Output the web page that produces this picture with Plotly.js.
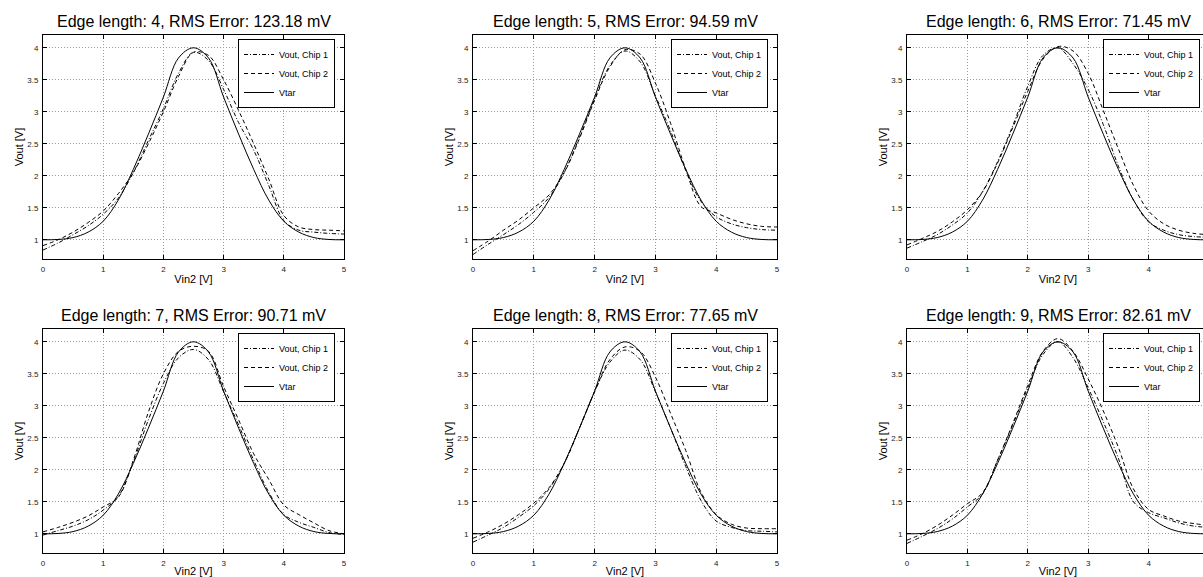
<!DOCTYPE html>
<html>
<head>
<meta charset="utf-8">
<script src="https://cdn.plot.ly/plotly-3.0.1.min.js"></script>
<style>
  html, body { margin: 0; padding: 0; background: #fff; overflow: hidden; }
  #chart { width: 1240px; height: 577px; }
</style>
</head>
<body>
<div id="chart"></div>
<script>
// ---------------- data ----------------
const vin2 = [0, 0.25, 0.5, 0.75, 1, 1.25, 1.5, 1.75, 2, 2.25, 2.5, 2.75, 3, 3.25, 3.5, 3.75, 4, 4.25, 4.5, 4.75, 5];
const vin2TicksFull = [0, 1, 2, 3, 4, 5];
const vin2TicksCropped = [0, 1, 2, 3, 4];

const vtar = [1.00, 1.005, 1.035, 1.12, 1.29, 1.62, 2.10, 2.65, 3.23, 3.84, 4.00, 3.84, 3.23, 2.65, 2.10, 1.62, 1.29, 1.12, 1.035, 1.005, 1.00];

const edgeLengths = [4, 5, 6, 7, 8, 9];
const rmsErrors = [123.18, 94.59, 71.45, 90.71, 77.65, 82.61];
const seriesNames = ['Vout, Chip 1', 'Vout, Chip 2', 'Vtar'];

const chip1_e4 = [0.84, 0.95, 1.08, 1.22, 1.40, 1.65, 2.05, 2.55, 3.05, 3.60, 3.93, 3.80, 3.35, 2.83, 2.40, 1.85, 1.30, 1.15, 1.12, 1.10, 1.09];
const chip2_e4 = [0.91, 1.00, 1.12, 1.27, 1.45, 1.72, 2.05, 2.50, 3.00, 3.55, 3.93, 3.88, 3.50, 3.02, 2.50, 1.95, 1.38, 1.20, 1.16, 1.15, 1.14];

const chip1_e5 = [0.77, 0.93, 1.08, 1.24, 1.43, 1.66, 2.05, 2.60, 3.20, 3.72, 3.95, 3.78, 3.25, 2.70, 2.08, 1.60, 1.36, 1.25, 1.19, 1.16, 1.15];
const chip2_e5 = [0.83, 0.98, 1.15, 1.31, 1.50, 1.70, 2.05, 2.58, 3.18, 3.70, 3.97, 3.90, 3.45, 2.82, 2.10, 1.52, 1.42, 1.32, 1.25, 1.21, 1.20];

const chip1_e6 = [0.87, 0.97, 1.08, 1.23, 1.42, 1.75, 2.22, 2.78, 3.40, 3.88, 4.00, 3.75, 3.35, 2.80, 2.15, 1.62, 1.28, 1.15, 1.08, 1.05, 1.04];
const chip2_e6 = [0.92, 1.02, 1.13, 1.28, 1.47, 1.75, 2.20, 2.75, 3.32, 3.82, 4.02, 3.95, 3.60, 3.02, 2.42, 1.85, 1.45, 1.25, 1.15, 1.10, 1.08];

const chip1_e7 = [0.98, 1.05, 1.12, 1.22, 1.37, 1.58, 2.12, 2.78, 3.35, 3.75, 3.88, 3.72, 3.22, 2.70, 2.15, 1.65, 1.30, 1.18, 1.10, 1.02, 0.99];
const chip2_e7 = [1.03, 1.10, 1.18, 1.28, 1.42, 1.57, 2.15, 2.90, 3.50, 3.85, 3.93, 3.85, 3.30, 2.78, 2.25, 1.85, 1.45, 1.30, 1.17, 1.05, 1.00];

const chip1_e8 = [0.87, 0.98, 1.10, 1.26, 1.44, 1.70, 2.10, 2.65, 3.22, 3.68, 3.87, 3.72, 3.22, 2.65, 2.05, 1.52, 1.20, 1.10, 1.05, 1.04, 1.03];
const chip2_e8 = [0.93, 1.03, 1.15, 1.30, 1.48, 1.72, 2.10, 2.65, 3.22, 3.72, 3.92, 3.85, 3.45, 2.88, 2.30, 1.65, 1.30, 1.15, 1.09, 1.08, 1.08];

const chip1_e9 = [0.85, 0.96, 1.08, 1.23, 1.42, 1.62, 2.15, 2.70, 3.28, 3.80, 4.00, 3.75, 3.28, 2.75, 2.18, 1.50, 1.33, 1.25, 1.17, 1.12, 1.10];
const chip2_e9 = [0.90, 1.00, 1.13, 1.29, 1.47, 1.64, 2.15, 2.72, 3.32, 3.85, 4.05, 3.85, 3.42, 2.92, 2.35, 1.70, 1.38, 1.28, 1.20, 1.16, 1.13];

const chip1Series = [chip1_e4, chip1_e5, chip1_e6, chip1_e7, chip1_e8, chip1_e9];
const chip2Series = [chip2_e4, chip2_e5, chip2_e6, chip2_e7, chip2_e8, chip2_e9];

// ---------------- layout geometry ----------------
const W = 1240, H = 577;
const colPx = [[43, 344], [473, 777], [907, 1209]];
const rowPx = [[35, 259], [329, 553]];
const FONT = 'Liberation Sans, Arial, Helvetica, sans-serif';

const dashStyles = ['4px,2px,1px,2px', '4px,3px', 'solid'];

const traces = [];
const layout = {
  width: W, height: H,
  margin: {l: 0, r: 0, t: 0, b: 0},
  paper_bgcolor: '#fff', plot_bgcolor: '#fff',
  font: {family: FONT, color: '#000', size: 9},
  showlegend: true,
  annotations: []
};

edgeLengths.forEach((edge, i) => {
  const row = Math.floor(i / 3), col = i % 3;
  const n = i + 1;
  const xa = 'x' + (n === 1 ? '' : n), ya = 'y' + (n === 1 ? '' : n);
  const legendId = 'legend' + (n === 1 ? '' : n);
  const series = [chip1Series[i], chip2Series[i], vtar];
  series.forEach((ys, k) => {
    traces.push({
      type: 'scatter', mode: 'lines',
      x: vin2, y: ys,
      name: seriesNames[k],
      xaxis: xa, yaxis: ya,
      legend: legendId,
      line: {color: '#000', width: 1, dash: dashStyles[k], shape: 'spline', smoothing: 1},
      hoverinfo: 'skip'
    });
  });

  const [x0, x1] = colPx[col], [y0, y1] = rowPx[row];
  const common = {
    showline: true, linecolor: '#000', linewidth: 1, mirror: 'ticks',
    ticks: 'inside', ticklen: 4, tickwidth: 1, tickcolor: '#000',
    showgrid: true, gridcolor: '#9a9a9a', griddash: '1px,2px', gridwidth: 1,
    zeroline: false, fixedrange: true,
    tickfont: {size: 8, color: '#222', family: FONT},
    ticklabelstandoff: 2
  };
  layout['xaxis' + (n === 1 ? '' : n)] = Object.assign({}, common, {
    domain: [x0 / W, x1 / W], anchor: ya,
    range: [0, 5], tickmode: 'array',
    tickvals: col === 2 ? vin2TicksCropped : vin2TicksFull,
    title: {text: 'Vin2 [V]', font: {size: 11, family: FONT, color: '#000'}, standoff: 2}
  });
  layout['yaxis' + (n === 1 ? '' : n)] = Object.assign({}, common, {
    domain: [1 - y1 / H, 1 - y0 / H], anchor: xa,
    range: [0.7, 4.2], tick0: 1, dtick: 0.5,
    title: {text: 'Vout [V]', font: {size: 11, family: FONT, color: '#000'}, standoff: 1}
  });
  layout[legendId] = {
    x: (x1 - 9) / W, y: 1 - (y0 + 4) / H,
    xanchor: 'right', yanchor: 'top',
    bgcolor: '#fff', bordercolor: '#000', borderwidth: 1,
    font: {size: 9, family: FONT, color: '#000'},
    itemwidth: 30, tracegroupgap: 0
  };
  layout.annotations.push({
    xref: 'paper', yref: 'paper',
    x: (x0 + x1) / 2 / W, y: 1 - y0 / H,
    xanchor: 'center', yanchor: 'bottom', yshift: 3,
    showarrow: false,
    text: 'Edge length: ' + edge + ', RMS Error: ' + rmsErrors[i].toFixed(2) + ' mV',
    font: {size: 16, family: FONT, color: '#000'}
  });
});

Plotly.newPlot('chart', traces, layout, {displayModeBar: false, staticPlot: true});
</script>
</body>
</html>
